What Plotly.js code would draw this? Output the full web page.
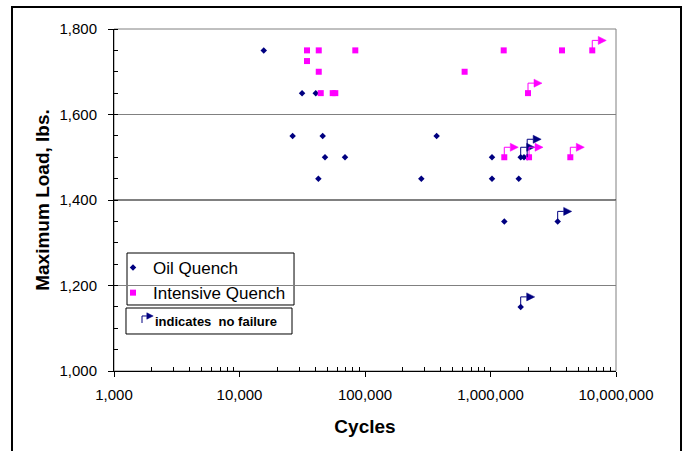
<!DOCTYPE html>
<html>
<head>
<meta charset="utf-8">
<script src="https://cdn.plot.ly/plotly-3.0.1.min.js"></script>
<style>html,body{margin:0;padding:0;background:#fff;}#chart{width:688px;height:451px;}</style>
</head>
<body>
<div id="chart"></div>
<script>
// ---- data ----
const oilCycles = [15600, 31500, 40500, 26500, 46000, 372000, 48000, 69300, 42500, 281000,
                   1028000, 1740000, 1850000, 1960000, 1028000, 1680000, 1288000, 3430000, 1740000];
const oilLoad   = [1750, 1650, 1650, 1550, 1550, 1550, 1500, 1500, 1450, 1450,
                   1500, 1500, 1500, 1500, 1450, 1450, 1350, 1350, 1150];
const oilNoFailure = [0,0,0,0,0,0,0,0,0,0, 0,1,0,1,0,0,0,1,1];

const iqCycles = [34500, 42800, 83700, 34500, 42800, 44400, 55300, 58000, 622000,
                  1274000, 3715000, 6470000, 1990000, 1288000, 2028000, 4325000];
const iqLoad   = [1750, 1750, 1750, 1725, 1700, 1650, 1650, 1650, 1700,
                  1750, 1750, 1750, 1650, 1500, 1500, 1500];
const iqNoFailure = [0,0,0,0,0,0,0,0,0, 0,0,1,1,1,1,1];

const seriesNames = ['Oil Quench', 'Intensive Quench'];
const xTickVals = [1000, 10000, 100000, 1000000, 10000000];
const xTickText = ['1,000', '10,000', '100,000', '1,000,000', '10,000,000'];
const yTickVals = [1000, 1200, 1400, 1600, 1800];
const yTickText = ['1,000', '1,200', '1,400', '1,600', '1,800'];
const noteText = 'indicates  no failure';

// ---- styles ----
const NAVY = '#000080', MAGENTA = '#FF00FF';
const FONT = 'Liberation Sans, Arial, sans-serif';
const darkGridValue = 1400;

// minor tick positions of the log axis (2..9 in every decade)
const minorDigits = [2, 3, 4, 5, 6, 7, 8, 9];
const xMinor = [];
xTickVals.slice(0, -1).forEach(d => minorDigits.forEach(m => xMinor.push(d * m)));

// "no failure" arrow glyph (pixel-sized, anchored at a data point)
function arrowShapes(xa, ya, xref, yref, color, stem, scale) {
  const s = scale || 1;
  const h = stem, w1 = 6 * s, tw = 8 * s, th = 4 * s;
  return [
    {type: 'path', xref: xref, yref: yref, xsizemode: 'pixel', ysizemode: 'pixel',
     xanchor: xa, yanchor: ya,
     path: `M0,0 L0,${h} L${w1},${h}`,
     line: {color: color, width: 1}, layer: 'above'},
    {type: 'path', xref: xref, yref: yref, xsizemode: 'pixel', ysizemode: 'pixel',
     xanchor: xa, yanchor: ya,
     path: `M${w1},${h - th} L${w1},${h + th} L${w1 + tw},${h} Z`,
     fillcolor: color, line: {color: color, width: 0.5}, layer: 'above'}
  ];
}

const shapes = [];
// plot-area border (gray)
shapes.push({type: 'rect', xref: 'paper', yref: 'paper', x0: 0, x1: 1, y0: 0, y1: 1,
             line: {color: '#808080', width: 1}, layer: 'below'});
// darker gridline
shapes.push({type: 'line', xref: 'paper', yref: 'y', x0: 0, x1: 1, y0: darkGridValue, y1: darkGridValue,
             line: {color: '#000000', width: 1}, layer: 'between'});
// legend box
shapes.push({type: 'rect', xref: 'paper', yref: 'paper', x0: 0.0259, x1: 0.3586, y0: 0.193, y1: 0.345,
             line: {color: '#000000', width: 1}, fillcolor: '#ffffff', layer: 'between'});
// outer chart frame
shapes.push({type: 'rect', xref: 'paper', yref: 'paper', x0: -0.2032, x1: 1.1295, y0: -0.30, y1: 1.0643,
             line: {color: '#000000', width: 2}, layer: 'above'});

const stemFor = (series, i) => (series === 'oil' && i === 13) ? 18 : 10;
oilCycles.forEach((c, i) => { if (oilNoFailure[i]) shapes.push(...arrowShapes(c, oilLoad[i], 'x', 'y', NAVY, stemFor('oil', i))); });
iqCycles.forEach((c, i) => { if (iqNoFailure[i]) shapes.push(...arrowShapes(c, iqLoad[i], 'x', 'y', MAGENTA, stemFor('iq', i))); });

// note box
shapes.push({type: 'rect', xref: 'paper', yref: 'paper', x0: 0.0239, x1: 0.3546, y0: 0.1082, y1: 0.1842,
             line: {color: '#000000', width: 1}, fillcolor: '#ffffff', layer: 'above'});
shapes.push(...arrowShapes(0.0558, 0.1404, 'paper', 'paper', NAVY, 7, 0.8));

const traces = [
  {type: 'scatter', mode: 'markers', name: seriesNames[0], x: oilCycles, y: oilLoad,
   marker: {symbol: 'diamond', size: 5, color: NAVY}},
  {type: 'scatter', mode: 'markers', name: seriesNames[1], x: iqCycles, y: iqLoad,
   marker: {symbol: 'square', size: 6, color: MAGENTA}}
];

const layout = {
  width: 688, height: 451,
  margin: {l: 114, r: 72, t: 29, b: 80, pad: 0},
  paper_bgcolor: '#ffffff', plot_bgcolor: '#ffffff',
  font: {family: FONT, color: '#000000'},
  showlegend: true,
  legend: {x: -0.002, y: 0.3538, xanchor: 'left', yanchor: 'top',
           borderwidth: 0, bgcolor: 'rgba(0,0,0,0)',
           font: {family: FONT, size: 17, color: '#000000'}},
  xaxis: {type: 'log', range: [3, 7], tickvals: xTickVals, ticktext: xTickText,
          showline: true, linecolor: '#000000', linewidth: 1, mirror: false,
          ticks: 'outside', ticklen: 5, tickcolor: '#000000', tickwidth: 1,
          ticklabelstandoff: 5,
          minor: {tickvals: xMinor, ticks: 'inside', ticklen: 4, tickcolor: '#000000', showgrid: false},
          showgrid: false, zeroline: false,
          tickfont: {family: FONT, size: 15, color: '#000000'},
          title: {text: 'Cycles', font: {family: FONT, size: 19, weight: 'bold', color: '#000000'}, standoff: 17}},
  yaxis: {range: [1000, 1800], tickvals: yTickVals, ticktext: yTickText,
          showline: true, linecolor: '#000000', linewidth: 1,
          ticks: 'outside', ticklen: 5, tickcolor: '#000000', tickwidth: 1,
          ticklabelstandoff: 8,
          minor: {dtick: 50, ticks: 'inside', ticklen: 4, tickcolor: '#000000', showgrid: false},
          showgrid: true, gridcolor: '#808080', gridwidth: 1, zeroline: false,
          tickfont: {family: FONT, size: 15, color: '#000000'},
          title: {text: 'Maximum Load, lbs.', font: {family: FONT, size: 19, weight: 'bold', color: '#000000'}, standoff: 4}},
  shapes: shapes,
  annotations: [
    {xref: 'paper', yref: 'paper', x: 0.0777, y: 0.1433, xanchor: 'left', yanchor: 'middle',
     text: noteText, showarrow: false, font: {family: FONT, size: 13, weight: 'bold', color: '#000000'}}
  ]
};

Plotly.newPlot('chart', traces, layout, {displayModeBar: false, staticPlot: true});
</script>
</body>
</html>
